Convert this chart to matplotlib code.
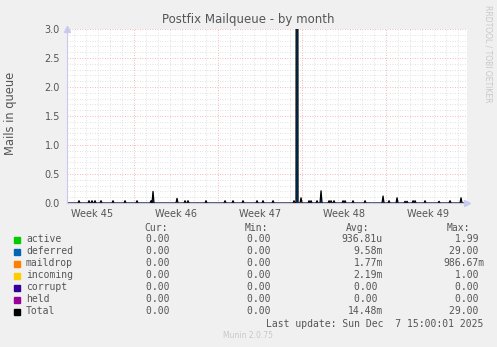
import numpy as np
import matplotlib
matplotlib.use("Agg")
import matplotlib.pyplot as plt
from matplotlib.ticker import MultipleLocator, FixedLocator, NullFormatter

# ── Data (days since Mon 3 Nov 2025 00:00, 2h samples) ─────────────────────────
T_START, T_END = 1.42, 34.75
STEP = 1 / 12

active_t   = [3.75, 8.38, 11.53, 21.61, 21.78, 32.39, 34.29]
active_v   = [0.04, 0.04, 0.04, 0.04, 0.04, 0.03, 0.09]
deferred_t = [8.58, 12.97, 20.61, 22.61, 27.72, 28.89, 29.61, 29.78]
deferred_v = [0.20, 0.04, 29.0, 0.21, 0.12, 0.09, 0.03, 0.03]
maildrop_t = [3.28, 4.28, 6.28, 11.29, 15.28, 17.78, 23.28, 24.61, 28.28, 30.44, 33.33]
maildrop_v = [0.04, 0.04, 0.04, 0.04, 0.04, 0.04, 0.04, 0.04, 0.04, 0.04, 0.04]
incoming_t = [2.44, 3.50, 5.29, 7.28, 10.61, 14.61, 16.11, 17.28, 18.61, 20.31,
              20.89, 22.28, 23.42, 23.71, 24.44, 25.28, 26.29, 30.28, 31.28]
incoming_v = [0.04, 0.04, 0.04, 0.04, 0.08, 0.04, 0.04, 0.04, 0.04, 0.04,
              0.09, 0.04, 0.04, 0.04, 0.04, 0.04, 0.04, 0.04, 0.04]

names  = ["active", "deferred", "maildrop", "incoming", "corrupt", "held", "Total"]
colors = ["#00cc00", "#0066b3", "#ff8000", "#ffcc00", "#330099", "#990099", "#000000"]
cur  = ["0.00"] * 7
mins = ["0.00"] * 7
avgs = ["936.81u", "9.58m", "1.77m", "2.19m", "0.00", "0.00", "14.48m"]
maxs = ["1.99", "29.00", "986.67m", "1.00", "0.00", "0.00", "29.00"]

week_labels = ["Week 45", "Week 46", "Week 47", "Week 48", "Week 49"]
week_mid    = [3.5, 10.5, 17.5, 24.5, 31.5]
week_start  = [7, 14, 21, 28]

t = np.arange(T_START - STEP, T_END + STEP, STEP)

def series(times, vals):
    s = np.zeros_like(t)
    for tt, vv in zip(times, vals):
        s[np.argmin(np.abs(t - tt))] += vv
    return s

stack = [series(active_t, active_v), series(deferred_t, deferred_v),
         series(maildrop_t, maildrop_v), series(incoming_t, incoming_v),
         np.zeros_like(t), np.zeros_like(t)]
total = np.sum(stack, axis=0)

# ── Figure ─────────────────────────────────────────────────────────────────────
BG = "#f0f0f0"
TXT = "#555555"
fig = plt.figure(figsize=(4.97, 3.47), dpi=100, facecolor=BG)
ax = fig.add_axes([67 / 497, 1 - 203 / 347, 400 / 497, 174 / 347])
ax.set_facecolor("white")

ax.stackplot(t, *stack, colors=colors[:6], linewidth=0, zorder=3)
ax.plot(t, total, color="black", linewidth=0.9, zorder=4)

ax.set_xlim(T_START, T_END)
ax.set_ylim(0, 3.0)

# grid
ax.xaxis.set_major_locator(FixedLocator(week_start))
ax.xaxis.set_minor_locator(MultipleLocator(1))
ax.yaxis.set_major_locator(MultipleLocator(0.5))
ax.yaxis.set_minor_locator(MultipleLocator(0.1))
ax.grid(which="minor", color="#d8d8d8", linestyle=(0, (1, 2)), linewidth=0.6)
ax.grid(which="major", color="#f0a0a0", linestyle=(0, (1, 2)), linewidth=0.6)
ax.set_axisbelow(True)
ax.xaxis.set_major_formatter(NullFormatter())
ax.tick_params(which="both", length=0)
ax.tick_params(axis="y", labelsize=7, labelcolor=TXT, pad=5)
ax.yaxis.set_major_formatter(plt.FuncFormatter(lambda v, p: f"{v:.1f}"))
for x, lab in zip(week_mid, week_labels):
    ax.text(x, -0.1, lab, ha="center", va="top", fontsize=7, color=TXT,
            transform=ax.transData, clip_on=False)

for side in ["top", "right"]:
    ax.spines[side].set_visible(False)
for side in ["left", "bottom"]:
    ax.spines[side].set_color("#c8c8f0")
    ax.spines[side].set_linewidth(0.8)
    ax.spines[side].set_zorder(5)
ax.plot(1, 0, ">", transform=ax.transAxes, color="#c8c8f0", ms=4, clip_on=False, zorder=6)
ax.plot(0, 1, "^", transform=ax.transAxes, color="#c8c8f0", ms=4, clip_on=False, zorder=6)

fig.text(248 / 497, 1 - 19 / 347, "Postfix Mailqueue - by month", ha="center",
         va="center", fontsize=8.5, color=TXT)
fig.text(11 / 497, 1 - 113 / 347, "Mails in queue", ha="center", va="center",
         rotation=90, fontsize=8.3, color=TXT)
fig.text(488 / 497, 1 - 5 / 347, "RRDTOOL / TOBI OETIKER", ha="center", va="top",
         rotation=270, fontsize=5.5, color="#c8c8c8")

# ── Legend table ───────────────────────────────────────────────────────────────
MONO = "DejaVu Sans Mono"
FS = 7
def fy(y):
    return 1 - y / 347

for x, h in zip([168, 268, 369, 470], ["Cur:", "Min:", "Avg:", "Max:"]):
    fig.text(x / 497, fy(228), h, ha="right", va="center", family=MONO, fontsize=FS, color=TXT)

for i, name in enumerate(names):
    y = 239.5 + i * 12
    fig.patches.append(plt.Rectangle(((14) / 497, fy(y + 3)), 6 / 497, 6 / 347,
                                     transform=fig.transFigure, color=colors[i]))
    fig.text(26 / 497, fy(y), name, ha="left", va="center", family=MONO, fontsize=FS, color=TXT)
    for x, v in zip([174, 275, 382, 483], [cur[i], mins[i], avgs[i], maxs[i]]):
        s = v if v[-1] in "um" else v + " "
        fig.text((x + 1) / 497, fy(y), s, ha="right", va="center", family=MONO,
                 fontsize=FS, color=TXT)

fig.text(483 / 497, fy(323.7), "Last update: Sun Dec  7 15:00:01 2025", ha="right",
         va="center", family=MONO, fontsize=FS, color=TXT)
fig.text(248 / 497, fy(336), "Munin 2.0.75", ha="center", va="center",
         fontsize=5.5, color="#c8c8c8")

fig.savefig("out.png", dpi=100, facecolor=BG)
